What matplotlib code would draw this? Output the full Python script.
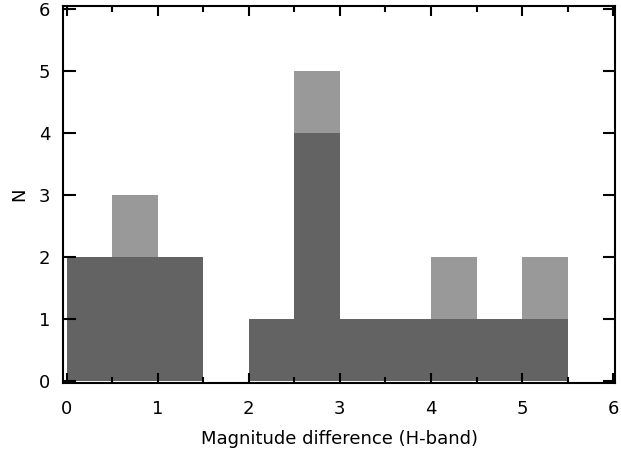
import numpy as np
import matplotlib.pyplot as plt
from matplotlib.ticker import MultipleLocator

# histogram bins (left edges, width 0.5)
bin_left = [0.0, 0.5, 1.0, 1.5, 2.0, 2.5, 3.0, 3.5, 4.0, 4.5, 5.0]
n_all = [2, 3, 2, 0, 1, 5, 1, 1, 2, 1, 2]
n_sub = [2, 2, 2, 0, 1, 4, 1, 1, 1, 1, 1]
bin_width = 0.5

fig = plt.figure(figsize=(6.21, 4.51), dpi=100)
ax = fig.add_axes([0.1014, 0.151, 0.889, 0.836])

ax.bar(bin_left, n_all, width=bin_width, align='edge', color='#999999', linewidth=0)
ax.bar(bin_left, n_sub, width=bin_width, align='edge', color='#636363', linewidth=0)

ax.set_xlim(-0.04, 6.02)
ax.set_ylim(-0.03, 6.05)
ax.xaxis.set_major_locator(MultipleLocator(1))
ax.xaxis.set_minor_locator(MultipleLocator(0.5))
ax.yaxis.set_major_locator(MultipleLocator(1))

ax.tick_params(axis='both', which='both', direction='in', top=True, right=True,
               labelsize=13, width=1.5)
ax.tick_params(axis='x', which='major', length=7, pad=12)
ax.tick_params(axis='x', which='minor', length=4)
ax.tick_params(axis='y', which='major', length=9, pad=9)
for s in ax.spines.values():
    s.set_linewidth(1.5)

ax.set_xlabel('Magnitude difference (H-band)', fontsize=13, labelpad=9)
ax.set_ylabel('N', fontsize=13, labelpad=8)

fig.savefig('out.png', dpi=100)
